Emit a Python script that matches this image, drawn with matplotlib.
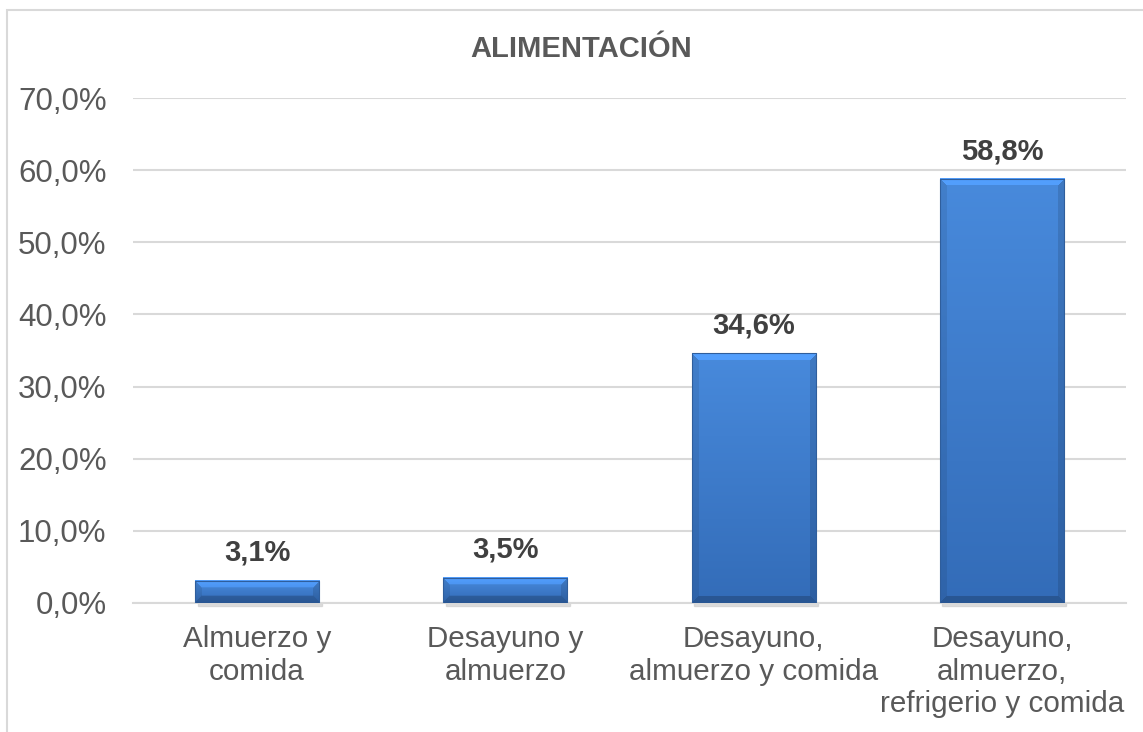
import matplotlib
matplotlib.use('Agg')
import matplotlib.pyplot as plt
import numpy as np
from matplotlib.patches import Rectangle

plt.rcParams['font.family'] = ['Liberation Sans', 'DejaVu Sans']

categorias = ['Almuerzo y\ncomida', 'Desayuno y\nalmuerzo', 'Desayuno,\nalmuerzo y comida',
              'Desayuno,\nalmuerzo,\nrefrigerio y comida']
valores = [3.1, 3.5, 34.6, 58.8]
etiquetas = ['3,1%', '3,5%', '34,6%', '58,8%']
yticks = [0, 10, 20, 30, 40, 50, 60, 70]
ytick_labels = ['0,0%', '10,0%', '20,0%', '30,0%', '40,0%', '50,0%', '60,0%', '70,0%']

fig = plt.figure(figsize=(11.43, 7.32), dpi=100)
ax = fig.add_axes([133/1143, 129/732, (1126-133)/1143, (634-129)/732])

x = np.arange(len(valores))
ancho = 0.5
ax.set_xlim(-0.5, len(valores) - 0.5)
ax.set_ylim(0, 70)

# borde del grafico
fig.patches.append(Rectangle((7/1143, -0.1), 1.2, 1.1 - 10/732, transform=fig.transFigure,
                             fill=False, edgecolor='#d9d9d9', linewidth=1.5))

ax.set_yticks(yticks)
ax.set_yticklabels(ytick_labels)
ax.yaxis.grid(True, color='#d9d9d9', linewidth=1.5)
ax.set_axisbelow(True)
for s in ['top', 'right', 'left']:
    ax.spines[s].set_visible(False)
ax.spines['bottom'].set_color('#d9d9d9')
ax.spines['bottom'].set_linewidth(1.5)
ax.tick_params(axis='both', length=0, labelcolor='#595959')
ax.tick_params(axis='y', pad=19, labelsize=22.5)
ax.tick_params(axis='x', pad=16, labelsize=21.3)
ax.set_xticks(x)
ax.set_xticklabels(categorias)

# barras con efecto de bisel
base_top = np.array([0x48, 0x8a, 0xdc]) / 255
base_bot = np.array([0x33, 0x6c, 0xb8]) / 255
px_por_unidad = (634 - 129) / 70
for xi, v in zip(x, valores):
    w = 125
    h = max(int(round(v * px_por_unidad)), 2)
    yy, xx = np.mgrid[0:h, 0:w]
    t = yy / max(h - 1, 1)
    img = base_top[None, None, :] * (1 - t[..., None]) + base_bot[None, None, :] * t[..., None]
    b = min(7, h / 2.8)
    dt = yy + 0.5
    db = h - yy - 0.5
    dl = xx + 0.5
    dr = w - xx - 0.5
    d = np.stack([dt, db, dl, dr])
    region = np.argmin(d, axis=0)
    dmin = np.min(d, axis=0)
    fac = np.ones((h, w))
    factors = [1.15, 0.8, 0.92, 0.88]
    for k, f in enumerate(factors):
        m = (region == k) & (dmin < b)
        fac[m] = f
    img = np.clip(img * fac[..., None], 0, 1)
    ax.imshow(img, extent=(xi - ancho/2, xi + ancho/2, 0, v), aspect='auto',
              interpolation='bilinear', zorder=3)
    ax.add_patch(Rectangle((xi - ancho/2, 0), ancho, v, fill=False,
                           edgecolor='#2f5e9c', linewidth=0.8, zorder=4))
    ax.add_patch(Rectangle((xi - ancho/2 + 0.01, -0.35), ancho, 0.35, color='#c8c8c8',
                           alpha=0.6, zorder=2, clip_on=False))

ax.set_xlim(-0.5, len(valores) - 0.5)
ax.set_ylim(0, 70)

for xi, v, lab in zip(x, valores, etiquetas):
    ax.annotate(lab, (xi, v), xytext=(0, 20), textcoords='offset points',
                ha='center', va='center', fontsize=21, fontweight='bold', color='#404040')

fig.text(581/1143, 1 - 49/732, 'ALIMENTACIÓN', ha='center', va='center',
         fontsize=21, fontweight='bold', color='#595959')

fig.savefig('out.png', dpi=100)
